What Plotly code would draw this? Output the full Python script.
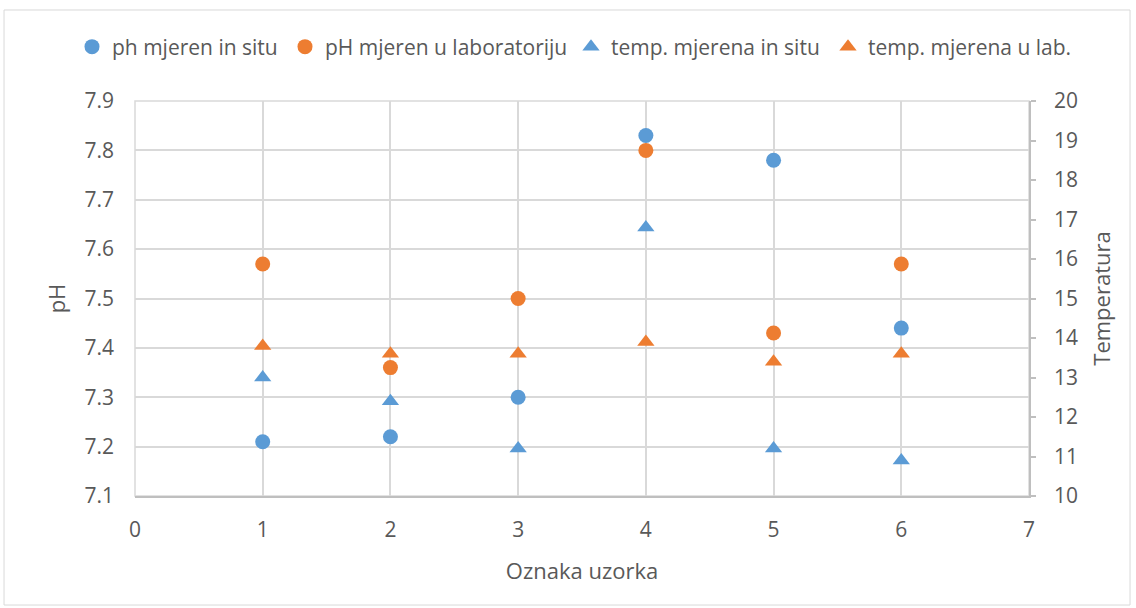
import plotly.graph_objects as go

uzorak = [1, 2, 3, 4, 5, 6]
ph_in_situ = [7.21, 7.22, 7.30, 7.83, 7.78, 7.44]
ph_lab = [7.57, 7.36, 7.50, 7.80, 7.43, 7.57]
temp_in_situ = [13.0, 12.4, 11.2, 16.8, 11.2, 10.9]
temp_lab = [13.8, 13.6, 13.6, 13.9, 13.4, 13.6]

BLUE = "#5B9BD5"
ORANGE = "#ED7D31"
FONT = "Open Sans, Liberation Sans, sans-serif"
GRAY = "#595959"
GRID = "#D9D9D9"
AXIS = "#BFBFBF"
W, H = 1136, 608

fig = go.Figure()
fig.add_trace(go.Scatter(x=uzorak, y=ph_in_situ, mode="markers", name="ph mjeren in situ",
                         legend="legend",
                         marker=dict(symbol="circle", size=15, color=BLUE)))
fig.add_trace(go.Scatter(x=uzorak, y=ph_lab, mode="markers", name="pH mjeren u laboratoriju",
                         legend="legend2",
                         marker=dict(symbol="circle", size=15, color=ORANGE)))
fig.add_trace(go.Scatter(x=uzorak, y=temp_in_situ, mode="markers", name="temp. mjerena in situ",
                         legend="legend3",
                         marker=dict(symbol="triangle-up", size=15, color=BLUE), yaxis="y2"))
fig.add_trace(go.Scatter(x=uzorak, y=temp_lab, mode="markers", name="temp. mjerena u lab.",
                         legend="legend4",
                         marker=dict(symbol="triangle-up", size=15, color=ORANGE), yaxis="y2"))


def leg(text_x):
    return dict(orientation="h", x=(text_x - 42) / W, xanchor="left", xref="container",
                y=1 - 47 / H, yanchor="middle", yref="container",
                font=dict(size=21, color=GRAY), itemwidth=30, bgcolor="rgba(0,0,0,0)")


fig.update_layout(
    width=W, height=H,
    margin=dict(l=135, r=107, t=101, b=112, autoexpand=False),
    paper_bgcolor="white", plot_bgcolor="white",
    font=dict(family=FONT, size=21, color=GRAY),
    showlegend=True,
    legend=leg(114), legend2=leg(327), legend3=leg(613), legend4=leg(870),
    xaxis=dict(range=[0, 7], dtick=1, showgrid=True, gridcolor=GRID, gridwidth=1.5,
               zeroline=False, showline=True, linecolor=AXIS, linewidth=1.5,
               ticks="", automargin=False,
               ticklabelstandoff=14, tickfont=dict(size=21, color=GRAY),
               title=dict(text="Oznaka uzorka", font=dict(size=22, color=GRAY), standoff=22)),
    yaxis=dict(range=[7.1, 7.9], dtick=0.1, tickformat=".1f", showgrid=True, gridcolor=GRID,
               gridwidth=1.5, zeroline=False, showline=False, ticks="", ticklabelstandoff=20,
               automargin=False, tickfont=dict(size=21, color=GRAY),
               title=dict(text="pH", font=dict(size=22, color=GRAY), standoff=12)),
    yaxis2=dict(range=[10, 20], dtick=1, overlaying="y", side="right", showgrid=False,
                zeroline=False, showline=True, linecolor=AXIS, linewidth=1.5,
                ticks="outside", ticklen=5, tickcolor=AXIS, tickwidth=1.5,
                ticklabelstandoff=14, automargin=False,
                tickfont=dict(size=21, color=GRAY),
                title=dict(text="Temperatura", font=dict(size=22, color=GRAY), standoff=18)),
    shapes=[
        dict(type="rect", xref="paper", yref="paper", x0=-0.1465, x1=1.113, y0=-0.276, y1=1.2304,
             line=dict(color=GRID, width=1), fillcolor="rgba(0,0,0,0)", layer="below"),
        dict(type="rect", xref="paper", yref="paper", x0=0, x1=1, y0=0, y1=1,
             line=dict(color=GRID, width=1.5), fillcolor="rgba(0,0,0,0)", layer="below"),
    ],
)

fig.write_html("out.html", config={"displayModeBar": False},
               post_script="document.body.style.margin='0';")
